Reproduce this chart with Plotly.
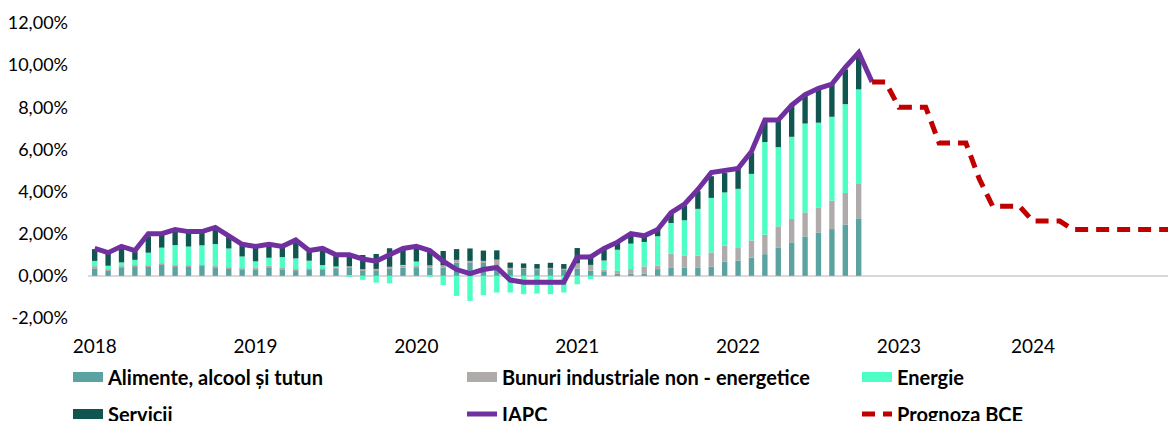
import pandas as pd
import plotly.graph_objects as go

# ---------------- data ----------------
months = [d.strftime("%Y-%m") for d in pd.date_range("2018-01-01", "2024-12-01", freq="MS")]

food = [0.33, 0.24, 0.40, 0.46, 0.46, 0.52, 0.46, 0.44, 0.49, 0.41, 0.35, 0.32,
        0.32, 0.40, 0.32, 0.27, 0.29, 0.29, 0.33, 0.40, 0.27, 0.27, 0.37, 0.40,
        0.40, 0.40, 0.40, 0.63, 0.63, 0.63, 0.48, 0.32, 0.35, 0.32, 0.35, 0.32,
        0.35, 0.25, 0.21, 0.10, 0.10, 0.10, 0.32, 0.40, 0.40, 0.40, 0.44, 0.68,
        0.73, 0.87, 1.03, 1.35, 1.59, 1.87, 2.06, 2.22, 2.44, 2.73]

neig = [0.13, 0.05, 0.05, 0.05, 0.02, 0.06, 0.06, 0.05, 0.02, 0.05, 0.05, 0.03,
        0.08, 0.08, 0.05, 0.05, 0.05, 0.05, 0.06, 0.06, 0.05, 0.06, 0.06, 0.10,
        0.06, 0.10, 0.10, 0.13, 0.08, 0.08, 0.29, 0.06, 0.03, 0.03, 0.03, 0.02,
        0.24, 0.27, 0.08, 0.14, 0.22, 0.35, 0.16, 0.65, 0.57, 0.56, 0.67, 0.76,
        0.59, 0.81, 0.92, 1.00, 1.11, 1.14, 1.19, 1.35, 1.49, 1.63]

energy = [0.25, 0.19, 0.19, 0.25, 0.62, 0.76, 0.94, 0.90, 0.94, 1.05, 0.90, 0.57,
          0.29, 0.38, 0.52, 0.51, 0.38, 0.17, 0.06, -0.02, -0.19, -0.32, -0.35, 0.02,
          0.22, -0.03, -0.44, -0.95, -1.19, -0.92, -0.79, -0.79, -0.87, -0.84, -0.87, -0.79,
          -0.40, -0.16, 0.44, 1.00, 1.21, 1.16, 1.40, 1.46, 1.67, 2.22, 2.59, 2.52,
          2.81, 3.16, 4.40, 3.76, 3.90, 4.22, 4.02, 3.98, 4.22, 4.49]

services = [0.56, 0.60, 0.73, 0.40, 0.78, 0.66, 0.74, 0.70, 0.60, 0.73, 0.55, 0.58,
            0.71, 0.62, 0.48, 0.81, 0.44, 0.75, 0.53, 0.54, 0.67, 0.71, 0.88, 0.80,
            0.72, 0.73, 0.68, 0.51, 0.59, 0.49, 0.44, 0.25, 0.21, 0.21, 0.24, 0.22,
            0.73, 0.48, 0.51, 0.36, 0.38, 0.30, 0.32, 0.48, 0.70, 0.84, 1.03, 0.92,
            0.95, 1.00, 1.00, 1.24, 1.46, 1.30, 1.59, 1.54, 1.65, 1.75]

iapc = [1.3, 1.1, 1.4, 1.2, 2.0, 2.0, 2.2, 2.1, 2.1, 2.3, 1.9, 1.5,
        1.4, 1.5, 1.4, 1.7, 1.2, 1.3, 1.0, 1.0, 0.8, 0.7, 1.0, 1.3,
        1.4, 1.2, 0.7, 0.3, 0.1, 0.3, 0.4, -0.2, -0.3, -0.3, -0.3, -0.3,
        0.9, 0.9, 1.3, 1.6, 2.0, 1.9, 2.2, 3.0, 3.4, 4.1, 4.9, 5.0,
        5.1, 5.9, 7.4, 7.4, 8.1, 8.6, 8.9, 9.1, 9.9, 10.6, 9.2]

prognoza = [9.2, 9.2,
            8.0, 8.0, 8.0, 6.3, 6.3, 6.3, 4.6, 3.3, 3.3, 3.3, 2.6, 2.6,
            2.6, 2.2, 2.2, 2.2, 2.2, 2.2, 2.2, 2.2, 2.2, 2.2, 2.2, 2.2]

tick_months = ["2018-01", "2019-01", "2020-01", "2021-01", "2022-01", "2023-01", "2023-11"]
tick_labels = ["2018", "2019", "2020", "2021", "2022", "2023", "2024"]
y_ticks = [-2, 0, 2, 4, 6, 8, 10, 12]
y_labels = ["-2,00%", "0,00%", "2,00%", "4,00%", "6,00%", "8,00%", "10,00%", "12,00%"]

# ---------------- figure ----------------
bar_months = months[:len(food)]
iapc_months = months[:len(iapc)]
prog_months = months[len(iapc) - 1:len(iapc) - 1 + len(prognoza)]

FONT = "Lato, Open Sans, sans-serif"

fig = go.Figure()
bars = [
    ("Alimente, alcool și tutun", food, "#5BA3A1", "legend"),
    ("Bunuri industriale non - energetice", neig, "#AFABAB", "legend2"),
    ("Energie", energy, "#4DFFC4", "legend3"),
    ("Servicii", services, "#10554F", "legend4"),
]
for name, vals, col, lg in bars:
    fig.add_trace(go.Bar(x=bar_months, y=vals, name=name, marker_color=col,
                         marker_line_width=0, width=0.4, showlegend=False))
    # legend swatch (wide rectangle like the original legend)
    fig.add_trace(go.Scatter(x=[None], y=[None], mode="lines", name=name,
                             line=dict(color=col, width=12), legend=lg))

fig.add_trace(go.Scatter(x=iapc_months, y=iapc, name="IAPC", mode="lines",
                         line=dict(color="#7030A0", width=5), legend="legend5"))
fig.add_trace(go.Scatter(x=prog_months, y=prognoza, name="Prognoza BCE", mode="lines",
                         line=dict(color="#C00000", width=5, dash="13px,8px"),
                         legend="legend6"))

leg_font = dict(family=FONT, size=20, color="#000000", weight="bold")
def leg(px, py):
    return dict(xref="container", yref="container", x=(px - 47) / 1176,
                y=1 - (py - 8) / 421, xanchor="left", yanchor="middle",
                orientation="h", font=leg_font, bgcolor="rgba(0,0,0,0)", borderwidth=0)

fig.update_layout(
    width=1176, height=421,
    margin=dict(l=80, r=0, t=15, b=111, autoexpand=False),
    paper_bgcolor="white", plot_bgcolor="white",
    barmode="relative",
    showlegend=True,
    legend=leg(107, 377), legend2=leg(501, 377), legend3=leg(896, 377),
    legend4=leg(107, 414), legend5=leg(501, 414), legend6=leg(896, 414),
    xaxis=dict(type="category", categoryorder="array", categoryarray=months,
               range=[-0.5, 81.27], tickmode="array", tickvals=tick_months,
               ticktext=tick_labels, showgrid=False, showline=False, zeroline=False,
               ticks="", tickfont=dict(family=FONT, size=19, color="#000000"),
               ticklabelstandoff=15),
    yaxis=dict(range=[-2, 12], tickmode="array", tickvals=y_ticks, ticktext=y_labels,
               showgrid=False, showline=False, zeroline=True,
               zerolinecolor="#D9D9D9", zerolinewidth=2, ticks="",
               tickfont=dict(family=FONT, size=18, color="#000000"),
               ticklabelstandoff=19),
)

fig.write_html("out.html")
